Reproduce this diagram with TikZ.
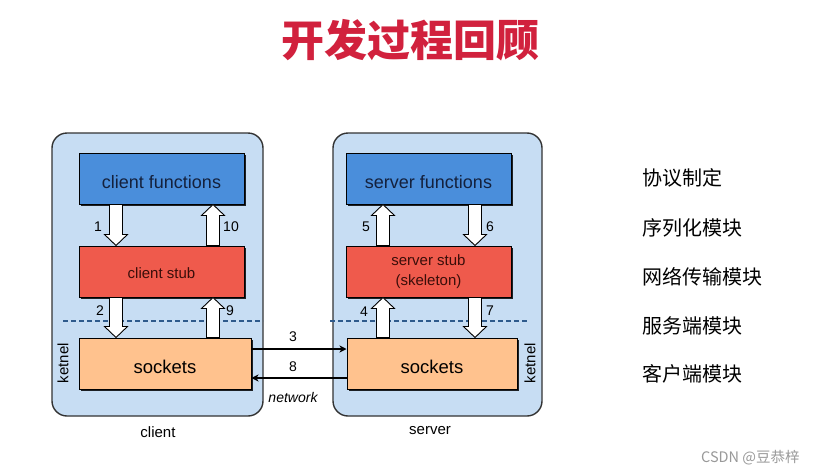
\documentclass[tikz,border=0pt]{standalone}
\usepackage{fontspec}
\setmainfont{Liberation Sans}
\newfontfamily\cjk{Noto Sans CJK SC}
\usetikzlibrary{arrows.meta,shadows,calc}
\definecolor{outerfill}{HTML}{C7DDF3}
\definecolor{outerline}{HTML}{333333}
\definecolor{funcfill}{HTML}{4A8EDB}
\definecolor{functext}{HTML}{14213D}
\definecolor{stubfill}{HTML}{EF5A4C}
\definecolor{stubtext}{HTML}{3A0E0A}
\definecolor{sockfill}{HTML}{FFC28E}
\definecolor{dashblue}{HTML}{2E5A8C}
\definecolor{titlered}{HTML}{D1213D}
\tikzset{
  outerbox/.style={draw=outerline, fill=outerfill, line width=1.4pt, rounded corners=15pt, inner sep=0pt},
  innerbox/.style={draw=black, line width=1pt, inner sep=0pt, minimum height=51pt,
     drop shadow={shadow xshift=1.6pt, shadow yshift=-1.8pt, fill=black, opacity=0.85}},
  funcbox/.style={innerbox, fill=funcfill, text=functext, font=\fontsize{18}{20}\selectfont, minimum width=165pt,
     text height=19pt, text depth=0pt},
  stubbox/.style={innerbox, fill=stubfill, text=stubtext, font=\fontsize{15}{20}\selectfont, minimum width=165pt, align=center},
  sockbox/.style={innerbox, fill=sockfill, text=black, font=\fontsize{18.5}{20}\selectfont, text height=20.5pt, text depth=0pt},
  numlbl/.style={font=\fontsize{14}{16}\selectfont, inner sep=0pt},
  hollow/.style={draw=black, fill=white, line width=0.9pt, line join=miter},
  netline/.style={draw=black, line width=1.3pt, -{Stealth[length=7pt,width=7pt,inset=2pt]}},
  kern/.style={rotate=90, font=\fontsize{15}{16}\selectfont, inner sep=0pt},
  sidelbl/.style={font=\fontsize{15}{16}\selectfont, inner sep=0pt},
  listitem/.style={anchor=west, font=\cjk\fontsize{20}{22}\selectfont, inner sep=0pt},
  dashsep/.style={draw=dashblue, line width=1.4pt, dash pattern=on 5pt off 3pt}
}
% hollow arrow pointing down: x, start anchor (top), end anchor (bottom)
\newcommand\hdown[3]{%
  \draw[hollow] let \p1=(#1,0 |- #2), \p2=(#1,0 |- #3) in
    (\x1-6.5pt,\y1) -- (\x1+6.5pt,\y1) -- (\x1+6.5pt,\y2+11pt) -- (\x1+11.5pt,\y2+11pt)
    -- (\x1,\y2) -- (\x1-11.5pt,\y2+11pt) -- (\x1-6.5pt,\y2+11pt) -- cycle;}
% hollow arrow pointing up: x, start anchor (bottom), end anchor (top)
\newcommand\hup[3]{%
  \draw[hollow] let \p1=(#1,0 |- #2), \p2=(#1,0 |- #3) in
    (\x1-6.5pt,\y1) -- (\x1+6.5pt,\y1) -- (\x1+6.5pt,\y2-11pt) -- (\x1+11.5pt,\y2-11pt)
    -- (\x1,\y2) -- (\x1-11.5pt,\y2-11pt) -- (\x1-6.5pt,\y2-11pt) -- cycle;}
\begin{document}
\begin{tikzpicture}[x=1pt,y=-1pt]
\useasboundingbox[fill=white] (0,0) rectangle (817,474);

% title
\node[text=titlered, font=\cjk\bfseries\fontsize{43}{46}\selectfont, inner sep=0pt] (title) at (410,40) {开发过程回顾};

% outer boxes
\node[outerbox, minimum width=211pt, minimum height=283pt] (cbox) at (157.5,274.5) {};
\node[outerbox, minimum width=209pt, minimum height=283pt] (sbox) at (437.5,274.5) {};

% dashed separators
\coordinate (cd1) at (63,321);
\coordinate (cd2) at (263,321);
\coordinate (sd1) at (330,321);
\coordinate (sd2) at (527,321);
\draw[dashsep] (cd1) -- (cd2);
\draw[dashsep] (sd1) -- (sd2);

% inner boxes
\node[funcbox] (cf) at (161.5,178.5) {client functions};
\node[stubbox, text height=14pt, text depth=0pt] (cs) at (161.5,271.5) {client stub};
\node[sockbox, minimum width=172pt] (csk) at (165,363.5) {sockets};
\node[funcbox] (sf) at (428.5,178.5) {server functions};
\node[stubbox] (ss) at (428.5,271.5) {server stub\\(skeleton)};
\node[sockbox, minimum width=170pt] (ssk) at (432,363.5) {sockets};

% hollow arrows client
\hdown{116}{cf.south}{cs.north}
\hup{213}{cs.north}{cf.south}
\hdown{116}{cs.south}{csk.north}
\hup{213}{csk.north}{cs.south}
% hollow arrows server
\hup{383}{ss.north}{sf.south}
\hdown{475}{sf.south}{ss.north}
\hup{383}{ssk.north}{ss.south}
\hdown{475}{ss.south}{ssk.north}

% numbers
\node[numlbl] (n1) at (98,227) {1};
\node[numlbl] (n10) at (231,227) {10};
\node[numlbl] (n2) at (100,311) {2};
\node[numlbl] (n9) at (230,311) {9};
\node[numlbl] (n5) at (366,227) {5};
\node[numlbl] (n6) at (490,227) {6};
\node[numlbl] (n4) at (364,312) {4};
\node[numlbl] (n7) at (490,311) {7};

% network
\draw[netline] (csk.east |- 0,349) -- (ssk.west |- 0,349);
\draw[netline] (ssk.west |- 0,378) -- (csk.east |- 0,378);
\node[numlbl] (n3) at (293,337) {3};
\node[numlbl] (n8) at (293,367) {8};
\node[sidelbl, font=\itshape\fontsize{14}{16}\selectfont] (net) at (293,397) {network};

% kernel labels
\node[kern] (k1) at (63,363) {ketnel};
\node[kern] (k2) at (530,363) {ketnel};

% bottom labels
\node[sidelbl] (clbl) at (158,432) {client};
\node[sidelbl] (slbl) at (430,431) {server};

% right list
\node[listitem] (t1) at (642,178) {协议制定};
\node[listitem] (t2) at (642,228) {序列化模块};
\node[listitem] (t3) at (642,277) {网络传输模块};
\node[listitem] (t4) at (642,326) {服务端模块};
\node[listitem] (t5) at (642,374) {客户端模块};

% watermark
\node[anchor=west, inner sep=0pt, text=gray!80, font=\cjk\fontsize{14.5}{15}\selectfont] (wm) at (701,458) {CSDN @豆恭梓};
\end{tikzpicture}
\end{document}
